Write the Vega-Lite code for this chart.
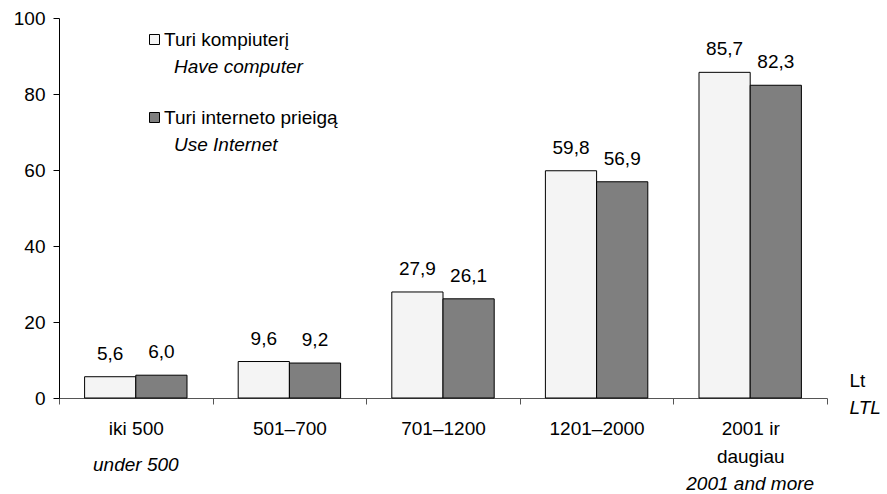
{
  "$schema": "https://vega.github.io/schema/vega-lite/v6.json",
  "width": 768,
  "height": 380,
  "autosize": {"type": "none"},
  "padding": {"left": 59, "top": 18, "right": 60, "bottom": 96},
  "config": {
    "view": {"stroke": null},
    "font": "Liberation Sans",
    "locale": {"number": {"decimal": ",", "thousands": " ", "grouping": [3], "currency": ["", ""]}},
    "axis": {"labelFont": "Liberation Sans", "titleFont": "Liberation Sans", "labelColor": "black", "titleColor": "black"},
    "legend": {"labelFont": "Liberation Sans", "labelColor": "black"}
  },
  "datasets": {
    "bars": [
      {"cat": "iki 500", "series": "Turi kompiuterį", "series_en": "Have computer", "value": 5.6},
      {"cat": "iki 500", "series": "Turi interneto prieigą", "series_en": "Use Internet", "value": 6.0},
      {"cat": "501–700", "series": "Turi kompiuterį", "series_en": "Have computer", "value": 9.6},
      {"cat": "501–700", "series": "Turi interneto prieigą", "series_en": "Use Internet", "value": 9.2},
      {"cat": "701–1200", "series": "Turi kompiuterį", "series_en": "Have computer", "value": 27.9},
      {"cat": "701–1200", "series": "Turi interneto prieigą", "series_en": "Use Internet", "value": 26.1},
      {"cat": "1201–2000", "series": "Turi kompiuterį", "series_en": "Have computer", "value": 59.8},
      {"cat": "1201–2000", "series": "Turi interneto prieigą", "series_en": "Use Internet", "value": 56.9},
      {"cat": "2001 ir daugiau", "series": "Turi kompiuterį", "series_en": "Have computer", "value": 85.7},
      {"cat": "2001 ir daugiau", "series": "Turi interneto prieigą", "series_en": "Use Internet", "value": 82.3}
    ],
    "en": [
      {"cat": "iki 500", "en": "under 500"},
      {"cat": "2001 ir daugiau", "en": "2001 and more"}
    ]
  },
  "data": {"name": "bars"},
  "layer": [
    {
      "mark": {"type": "bar", "stroke": "black", "strokeWidth": 1},
      "encoding": {
        "x": {
          "field": "cat", "type": "nominal", "sort": null,
          "scale": {"paddingInner": 0, "paddingOuter": 0},
          "axis": {
            "title": "Lt", "titleX": 790, "titleY": -18, "titleAlign": "left", "titleBaseline": "middle",
            "titleFontWeight": "normal", "titleFontSize": 19, "titleAngle": 0,
            "labelAngle": 0, "labelFontSize": 19, "labelPadding": 15, "labelLineHeight": 28,
            "labelExpr": "datum.label == '2001 ir daugiau' ? ['2001 ir', 'daugiau'] : datum.label",
            "tickBand": "extent", "tickSize": 6, "tickColor": "#555", "domainColor": "#555", "labelLimit": 200
          }
        },
        "xOffset": {"field": "series", "type": "nominal", "sort": null, "scale": {"paddingInner": 0, "paddingOuter": 0.5}},
        "y": {
          "field": "value", "type": "quantitative",
          "scale": {"domain": [0, 100], "nice": false},
          "axis": {
            "values": [0, 20, 40, 60, 80, 100], "grid": false, "labelFontSize": 19, "tickSize": 6, "labelPadding": 8,
            "tickColor": "black", "domainColor": "black",
            "title": "LTL", "titleAngle": 0, "titleX": 790, "titleY": 389, "titleAlign": "left", "titleBaseline": "middle",
            "titleFontStyle": "italic", "titleFontWeight": "normal", "titleFontSize": 19
          }
        },
        "fill": {
          "field": "series", "type": "nominal", "sort": null,
          "scale": {"range": ["#f4f4f4", "#7f7f7f"]},
          "legend": {
            "orient": "none", "legendX": 86, "legendY": 12, "direction": "vertical", "padding": 0, "title": null,
            "symbolType": "square", "symbolSize": 100, "symbolStrokeColor": "black", "symbolStrokeWidth": 1,
            "labelFontSize": 19, "labelOffset": 0, "rowPadding": 58, "labelLimit": 300
          }
        },
        "opacity": {
          "field": "series_en", "type": "ordinal", "sort": null,
          "scale": {"range": [1, 1]},
          "legend": {
            "orient": "none", "legendX": 96, "legendY": 39, "direction": "vertical", "padding": 0, "title": null,
            "symbolFillColor": "transparent", "symbolStrokeColor": "transparent", "symbolOpacity": 0, "symbolStrokeWidth": 0, "symbolSize": 100,
            "labelFontSize": 19, "labelFontStyle": "italic", "labelOffset": 0, "rowPadding": 58, "labelLimit": 300
          }
        }
      }
    },
    {
      "mark": {"type": "text", "fontSize": 19, "baseline": "alphabetic", "dy": -17, "color": "black"},
      "encoding": {
        "x": {"field": "cat", "type": "nominal", "sort": null},
        "xOffset": {"field": "series", "type": "nominal", "sort": null},
        "y": {"field": "value", "type": "quantitative"},
        "text": {"field": "value", "type": "quantitative", "format": ".1f"}
      }
    },
    {
      "data": {"name": "en"},
      "transform": [{"filter": "datum.cat == 'iki 500'"}],
      "mark": {"type": "text", "fontSize": 19, "fontStyle": "italic", "baseline": "middle", "color": "black"},
      "encoding": {
        "x": {"field": "cat", "type": "nominal", "sort": null},
        "y": {"datum": -17.6},
        "text": {"field": "en"}
      }
    },
    {
      "data": {"name": "en"},
      "transform": [{"filter": "datum.cat == '2001 ir daugiau'"}],
      "mark": {"type": "text", "fontSize": 19, "fontStyle": "italic", "baseline": "middle", "color": "black"},
      "encoding": {
        "x": {"field": "cat", "type": "nominal", "sort": null},
        "y": {"datum": -22.6},
        "text": {"field": "en"}
      }
    }
  ]
}
